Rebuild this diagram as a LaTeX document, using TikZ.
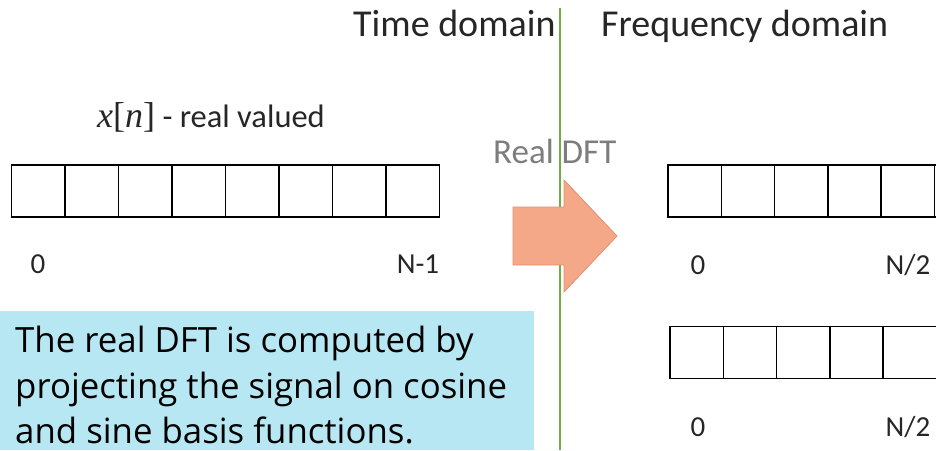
\documentclass[tikz,border=0pt]{standalone}
\usepackage{fontspec}
\setmainfont{Carlito}
\newfontfamily\boxfont{Open Sans}
\newfontfamily\serifm{Liberation Serif}
\definecolor{linegreen}{RGB}{112,173,71}
\definecolor{arrowfill}{RGB}{245,168,135}
\definecolor{arrowedge}{RGB}{228,143,112}
\definecolor{notefill}{RGB}{182,231,243}
\definecolor{dftgray}{RGB}{125,125,125}
\tikzset{
  cell/.style={draw=black, line width=1.5pt, minimum width=53.4pt, minimum height=52pt, inner sep=0pt, outer sep=0pt},
  lbl/.style={font=\fontsize{29}{34}\selectfont, inner sep=0pt, text=black!85},
  title/.style={font=\fontsize{38}{44}\selectfont, inner sep=0pt, text=black!85},
  note/.style={font=\boxfont\fontsize{34.8}{40}\selectfont, inner sep=0pt, anchor=base west, text=black, text depth=0pt},
}
\begin{document}
\begin{tikzpicture}[x=1pt,y=-1pt]
\useasboundingbox (0,0) rectangle (936,450);
\clip (0,0) rectangle (936,450);
% note box
\node[fill=notefill, minimum width=534pt, minimum height=139pt, inner sep=0pt, anchor=north west] (notebox) at (0,311) {};
\node[note] (n1) at (15,352) {The real DFT is computed by};
\node[note] (n2) at (15,398) {projecting the signal on cosine};
\node[note] (n3) at (15,443) {and sine basis functions.};
% titles
\node[title, anchor=base west] (tdom) at (353,36) {Time domain};
\node[title, anchor=base west] (fdom) at (601,36) {Frequency domain};
% divider
\coordinate (ltop) at (560,8);
\coordinate (lbot) at (560,450);
\draw[linegreen, line width=2.5pt] (ltop) -- (lbot);
% input array
\node[font=\fontsize{32.5}{38}\selectfont, inner sep=0pt, text=black!85, anchor=base west] (xlab) at (97,127)
  {{\serifm\fontsize{36}{40}\selectfont\itshape x\upshape[\itshape n\upshape]} - real valued};
\foreach \i in {1,...,8} {
  \node[cell] (l\i) at ({11.7+53.45*(\i-0.5)},191) {};
}
\node[lbl, anchor=base] (l0) at (38,273) {0};
\node[lbl, anchor=base] (lN) at (418,273) {N-1};
% arrow
\node[font=\fontsize{35}{42}\selectfont, inner sep=0pt, text=dftgray, anchor=base west] (dft) at (493,163) {Real DFT};
\draw[fill=arrowfill, draw=arrowedge, line width=0.8pt, line join=miter]
  (513,207) -- (564,207) -- (564,180) -- (617,236) -- (564,292) -- (564,265) -- (513,265) -- cycle;
% output arrays
\foreach \i in {1,...,6} {
  \node[cell] (r\i) at ({668+53.3*(\i-0.5)},191) {};
  \node[cell] (s\i) at ({670+53.3*(\i-0.5)},352.5) {};
}
\node[lbl, anchor=base] (r0) at (698,274) {0};
\node[lbl, anchor=base] (rN) at (908,274) {N/2};
\node[lbl, anchor=base] (s0) at (698,436) {0};
\node[lbl, anchor=base] (sN) at (908,436) {N/2};
\end{tikzpicture}
\end{document}
